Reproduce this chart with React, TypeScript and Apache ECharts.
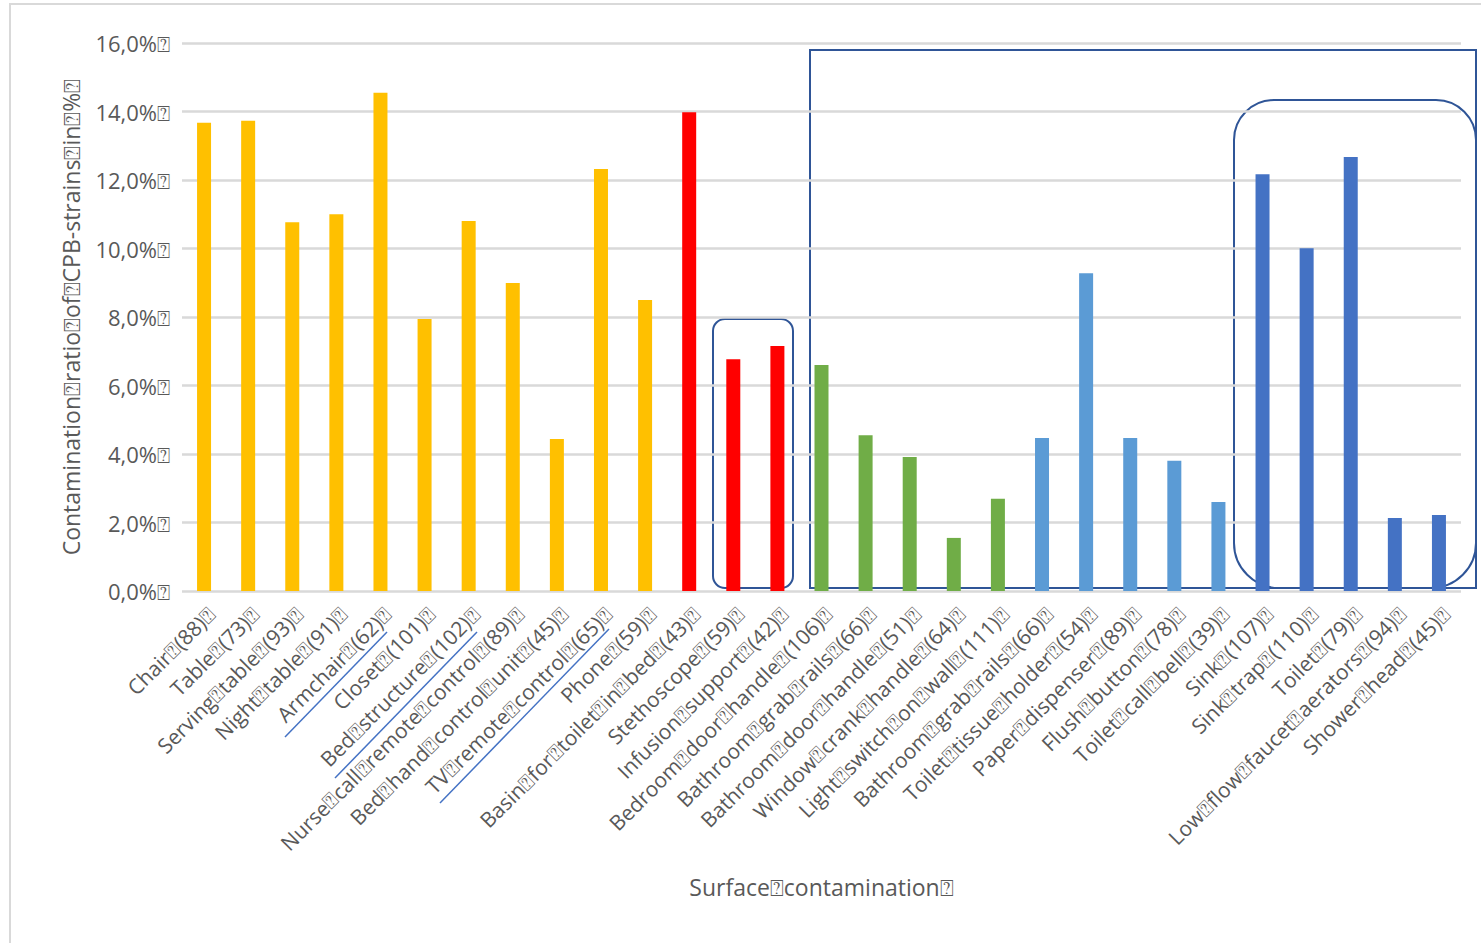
import React, { useEffect, useRef } from "react";
import * as echarts from "echarts";

const Q = "\u2370";

const names = [
  "Chair", "Table", "Serving table", "Night table", "Armchair", "Closet", "Bed structure",
  "Nurse call remote control", "Bed hand control unit", "TV remote control", "Phone",
  "Basin for toilet in bed", "Stethoscope", "Infusion support", "Bedroom door handle",
  "Bathroom grab rails", "Bathroom door handle", "Window crank handle", "Light switch on wall",
  "Bathroom grab rails", "Toilet tissue holder", "Paper dispenser", "Flush button",
  "Toilet call bell", "Sink", "Sink trap", "Toilet", "Low flow faucet aerators", "Shower head",
];
const counts = [88, 73, 93, 91, 62, 101, 102, 89, 45, 65, 59, 43, 59, 42, 106, 66, 51, 64, 111, 66, 54, 89, 78, 39, 107, 110, 79, 94, 45];
const values = [13.67, 13.73, 10.77, 11.0, 14.55, 7.94, 10.8, 8.99, 4.44, 12.32, 8.5, 13.98, 6.77, 7.15, 6.6, 4.55, 3.91, 1.55, 2.69, 4.47, 9.28, 4.47, 3.8, 2.6, 12.17, 10.01, 12.67, 2.13, 2.22];
const groups = [
  "patient", "patient", "patient", "patient", "patient", "patient", "patient", "patient", "patient", "patient", "patient",
  "care", "care", "care",
  "room", "room", "room", "room", "room",
  "bathroom", "bathroom", "bathroom", "bathroom", "bathroom",
  "water", "water", "water", "water", "water",
];
const yTicks = [0, 2, 4, 6, 8, 10, 12, 14, 16];

const groupColors: Record<string, string> = {
  patient: "#FFC000",
  care: "#FF0000",
  room: "#70AD47",
  bathroom: "#5B9BD5",
  water: "#4472C4",
};

const labels = names.map((n, i) => n.split(" ").join(Q) + Q + "(" + counts[i] + ")" + Q);

export default function App() {
  const ref = useRef<HTMLDivElement>(null);
  useEffect(() => {
    if (!ref.current) return;
    const chart = echarts.init(ref.current, undefined, { renderer: "svg" });
    const font = "'Open Sans', 'Noto Sans', sans-serif";
    const annot = "#2F5597";
    chart.setOption({
      animation: false,
      backgroundColor: "#ffffff",
      textStyle: { fontFamily: font },
      grid: { left: 182, right: 20, top: 43, bottom: 352, containLabel: false },
      xAxis: {
        type: "category",
        data: labels,
        axisLine: { show: false },
        axisTick: { show: false },
        axisLabel: {
          rotate: 45,
          interval: 0,
          margin: 12,
          fontSize: 21,
          color: "#595959",
          fontFamily: font,
          verticalAlign: "top",
        },
        name: "Surface" + Q + "contamination" + Q,
        nameLocation: "middle",
        nameGap: 284,
        nameTextStyle: { fontSize: 23, color: "#595959", fontFamily: font },
      },
      yAxis: {
        type: "value",
        min: yTicks[0],
        max: yTicks[yTicks.length - 1],
        interval: yTicks[1] - yTicks[0],
        axisLine: { show: false },
        axisTick: { show: false },
        splitLine: { lineStyle: { color: "#d9d9d9", width: 2.5 } },
        axisLabel: {
          margin: 12,
          fontSize: 22,
          color: "#595959",
          fontFamily: font,
          formatter: (v: number) => v.toFixed(1).replace(".", ",") + "%" + Q,
        },
        name: "Contamination" + Q + "ratio" + Q + "of" + Q + "CPB-strains" + Q + "in" + Q + "%" + Q,
        nameLocation: "middle",
        nameGap: 100,
        nameTextStyle: { fontSize: 23, color: "#595959", fontFamily: font },
      },
      series: [
        {
          type: "bar",
          barWidth: 14,
          data: values.map((v, i) => ({ value: v, itemStyle: { color: groupColors[groups[i]] } })),
        },
      ],
      graphic: [
        {
          type: "rect",
          silent: true,
          shape: { x: 10, y: 4, width: 3000, height: 3000 },
          style: { fill: "none", stroke: "#d9d9d9", lineWidth: 2 },
        },
        {
          type: "rect",
          silent: true,
          shape: { x: 713, y: 319, width: 80, height: 269, r: 12 },
          style: { fill: "none", stroke: annot, lineWidth: 2 },
        },
        {
          type: "rect",
          silent: true,
          shape: { x: 810, y: 50, width: 666, height: 538, r: 0 },
          style: { fill: "none", stroke: annot, lineWidth: 2 },
        },
        {
          type: "rect",
          silent: true,
          shape: { x: 1234, y: 100, width: 242, height: 488, r: [40, 40, 45, 45] },
          style: { fill: "none", stroke: annot, lineWidth: 2 },
        },
        {
          type: "line",
          silent: true,
          shape: { x1: 285, y1: 737, x2: 387, y2: 632 },
          style: { stroke: "#4472C4", lineWidth: 1.5 },
        },
        {
          type: "line",
          silent: true,
          shape: { x1: 335, y1: 778, x2: 477, y2: 632 },
          style: { stroke: "#4472C4", lineWidth: 1.5 },
        },
        {
          type: "line",
          silent: true,
          shape: { x1: 440, y1: 803, x2: 609, y2: 629 },
          style: { stroke: "#4472C4", lineWidth: 1.5 },
        },
      ],
    });
    return () => chart.dispose();
  }, []);
  return (
    <div
      ref={ref}
      style={{ position: "fixed", left: 0, top: 0, width: 1481, height: 943, background: "#fff" }}
    />
  );
}
